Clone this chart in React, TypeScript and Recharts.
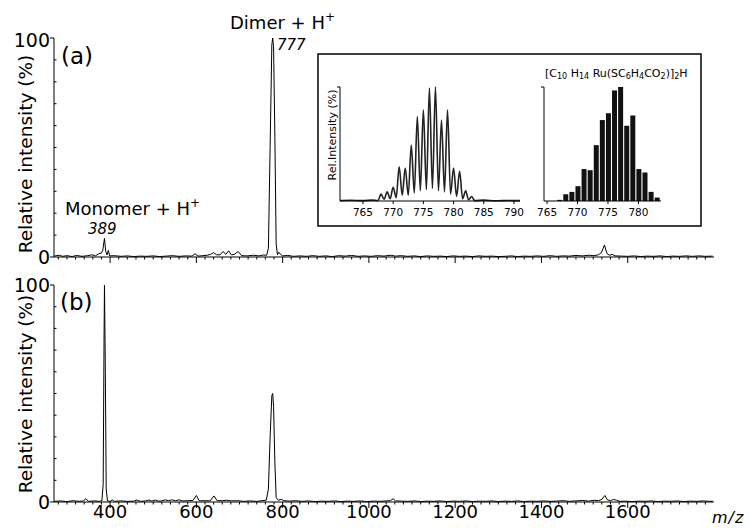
import React from 'react';
import { LineChart, Line, XAxis, YAxis, BarChart, Bar } from 'recharts';

const FONT = '"DejaVu Sans", Verdana, sans-serif';

// (a) spectrum: [m/z, relative intensity %]
const spectrumA: [number, number][] = [
  [270, 0.4], [282, 0.8], [290, 0.3], [300, 0.6], [312, 0.2], [322, 0.7], [335, 0.3], [348, 0.6],
  [358, 1.0], [366, 0.5], [374, 1.5], [380, 1.8], [383, 3], [387, 8.5], [390, 2.5], [393, 1],
  [396, 3], [399, 0.5], [410, 0.6], [425, 0.3], [440, 0.5], [455, 0.2], [470, 0.4], [485, 0.3],
  [500, 0.5], [515, 0.2], [530, 0.4], [545, 0.6], [560, 0.3], [575, 0.5], [590, 0.4], [597, 1.5],
  [604, 0.4], [615, 0.6], [625, 0.8], [633, 1.2], [640, 2], [647, 1], [655, 1], [662, 2.5],
  [668, 1.2], [675, 2.8], [681, 1], [688, 1.2], [697, 2.5], [705, 0.6], [718, 0.5], [732, 0.8],
  [745, 0.5], [755, 0.9], [763, 0.8], [767, 4], [771, 50], [775, 97], [777, 100], [779, 96],
  [782, 55], [785, 6], [788, 1], [791, 2.2], [795, 1.2], [800, 0.5], [812, 0.7], [825, 0.3],
  [840, 0.5], [855, 0.3], [870, 0.6], [885, 0.3], [900, 0.5], [915, 0.2], [930, 0.6], [945, 0.4],
  [960, 0.7], [975, 0.3], [990, 0.5], [1005, 0.3], [1020, 0.6], [1035, 0.4], [1050, 0.8], [1062, 0.4],
  [1075, 0.6], [1090, 0.3], [1105, 0.5], [1120, 0.2], [1135, 0.5], [1150, 0.3], [1165, 0.4], [1180, 0.2],
  [1195, 0.5], [1210, 0.3], [1225, 0.4], [1240, 0.2], [1255, 0.5], [1270, 0.3], [1285, 0.4], [1300, 0.2],
  [1315, 0.3], [1330, 0.5], [1345, 0.2], [1360, 0.4], [1375, 0.3], [1390, 0.5], [1405, 0.3], [1420, 0.6],
  [1435, 0.3], [1450, 0.5], [1465, 0.4], [1480, 0.7], [1495, 0.5], [1510, 0.8], [1522, 0.6], [1532, 1],
  [1539, 2], [1546, 5.5], [1552, 1.5], [1558, 0.8], [1564, 1.2], [1571, 0.5], [1585, 0.4], [1600, 0.3],
  [1615, 0.5], [1630, 0.2], [1645, 0.4], [1660, 0.3], [1675, 0.5], [1690, 0.2], [1705, 0.4], [1720, 0.3],
  [1735, 0.5], [1750, 0.3], [1765, 0.5], [1780, 0.3], [1797, 0.4],
];

// (b) spectrum
const spectrumB: [number, number][] = [
  [270, 0.3], [285, 0.5], [300, 0.2], [315, 0.6], [328, 0.3], [338, 0.5], [344, 1.5], [350, 0.3],
  [362, 0.5], [375, 0.3], [381, 0.6], [384, 8], [386, 75], [387, 100], [389, 60], [391, 6],
  [394, 0.5], [400, 0.3], [405, 1], [410, 0.3], [425, 0.5], [440, 0.3], [455, 0.4], [462, 0.9],
  [470, 0.3], [482, 0.5], [490, 0.9], [497, 0.4], [505, 0.9], [512, 0.4], [520, 0.5], [528, 1],
  [535, 0.6], [543, 1], [552, 0.6], [560, 1], [568, 0.5], [580, 0.6], [592, 0.7], [600, 3],
  [607, 0.5], [620, 0.6], [632, 0.5], [641, 2.8], [648, 0.6], [660, 0.6], [670, 0.8], [680, 0.5],
  [695, 0.6], [710, 0.3], [725, 0.5], [740, 0.3], [752, 0.6], [762, 0.8], [767, 6], [771, 30],
  [775, 49], [777, 50], [779, 44], [782, 18], [785, 2], [790, 0.8], [797, 1.2], [803, 0.6],
  [815, 0.4], [830, 0.6], [845, 0.3], [860, 0.5], [875, 0.2], [890, 0.4], [905, 0.3], [920, 0.5],
  [935, 0.2], [950, 0.4], [965, 0.3], [980, 0.5], [995, 0.2], [1010, 0.4], [1025, 0.3], [1040, 0.5],
  [1050, 0.6], [1056, 1.5], [1062, 0.5], [1075, 0.4], [1090, 0.3], [1105, 0.5], [1120, 0.2], [1135, 0.4],
  [1150, 0.3], [1165, 0.5], [1180, 0.2], [1195, 0.4], [1210, 0.3], [1225, 0.5], [1240, 0.2], [1255, 0.4],
  [1270, 0.3], [1285, 0.5], [1300, 0.2], [1315, 0.4], [1330, 0.3], [1345, 0.5], [1360, 0.2], [1375, 0.4],
  [1390, 0.3], [1405, 0.5], [1420, 0.3], [1435, 0.4], [1450, 0.6], [1465, 0.3], [1480, 0.5], [1495, 0.7],
  [1510, 0.4], [1522, 0.8], [1532, 0.6], [1540, 1.2], [1547, 3], [1553, 1], [1560, 0.6], [1567, 1.2],
  [1574, 0.8], [1582, 0.3], [1595, 0.4], [1610, 0.2], [1625, 0.4], [1640, 0.3], [1655, 0.5], [1670, 0.2],
  [1685, 0.4], [1700, 0.3], [1715, 0.5], [1730, 0.2], [1745, 0.4], [1760, 0.3], [1775, 0.5], [1790, 0.3],
  [1797, 0.4],
];

const mzLabelTicks = [400, 600, 800, 1000, 1200, 1400, 1600];
const mzMinorStep = 20;
const intensityTicks = [0, 10, 20, 30, 40, 50, 60, 70, 80, 90, 100];

// inset: measured isotope pattern
const isotopeMasses = [768, 769, 770, 771, 772, 773, 774, 775, 776, 777, 778, 779, 780, 781, 782, 783];
const isotopeMeasured = [6, 8, 12, 30, 29, 49, 74, 80, 99, 100, 71, 80, 29, 26, 9, 4];
const isotopeValleys = [0.5, 1.5, 2, 3, 5, 5, 7, 9, 10, 11, 9, 8, 6, 4, 2, 1, 0.3];
const profileEdgesLeft: [number, number][] = [[761.2, 0.3], [763, 0.6], [765, 0.3], [766.5, 0.8]];
const profileEdgesRight: [number, number][] = [[785, 0.8], [787, 0.2], [789, 0.5], [791, 0.3]];

// inset: calculated isotope pattern
const calcMasses = [767, 768, 769, 770, 771, 772, 773, 774, 775, 776, 777, 778, 779, 780, 781, 782, 783];
const calcIntensity = [1, 6, 8, 13, 28, 27, 49, 71, 77, 97, 100, 66, 75, 28, 25, 8, 3];

const insetLeftTicks = [765, 770, 775, 780, 785, 790];
const insetRightTicks = [765, 770, 775, 780];

const mainTicks: number[] = [];
for (let v = 280; v <= 1780; v += mzMinorStep) mainTicks.push(v);

const dataA = spectrumA.map(([mz, i]) => ({ mz, i }));
const dataB = spectrumB.map(([mz, i]) => ({ mz, i }));

const profileData: { mz: number; i: number }[] = [];
profileEdgesLeft.forEach(([mz, i]) => profileData.push({ mz, i }));
isotopeMasses.forEach((m, k) => {
  profileData.push({ mz: m - 0.5, i: isotopeValleys[k] });
  profileData.push({ mz: m, i: isotopeMeasured[k] });
});
profileData.push({ mz: isotopeMasses[isotopeMasses.length - 1] + 0.5, i: isotopeValleys[isotopeValleys.length - 1] });
profileEdgesRight.forEach(([mz, i]) => profileData.push({ mz, i }));

const calcData = calcMasses.map((m, k) => ({ mz: m, v: calcIntensity[k] }));

const MainXTick = (props: any) => {
  const { x, y, payload, showLabel } = props;
  const v = payload.value;
  const major = mzLabelTicks.includes(v);
  return (
    <g>
      <line x1={x} x2={x} y1={y} y2={y + (major ? 6 : 2.5)} stroke="#000" strokeWidth={1} />
      {showLabel && major ? (
        <text x={x} y={y + 16} textAnchor="middle" fontFamily={FONT} fontSize={18} fill="#000">
          {v}
        </text>
      ) : null}
    </g>
  );
};

const MainYTick = (props: any) => {
  const { x, y, payload, nudge } = props;
  const v = payload.value;
  if (v === 0 || v === 100) {
    return (
      <g>
        <line x1={x - 4} x2={x} y1={y} y2={y} stroke="#000" strokeWidth={1} />
        <text x={x - 4} y={y + (v === 100 ? nudge : 0)} textAnchor="end" dominantBaseline="central"
          fontFamily={FONT} fontSize={19} fill="#000">{v}</text>
      </g>
    );
  }
  return <line x1={x} x2={x + 2.5} y1={y} y2={y} stroke="#000" strokeWidth={1} />;
};

const InsetXTick = (props: any) => {
  const { x, y, payload } = props;
  return (
    <g>
      <line x1={x} x2={x} y1={y} y2={y + 3} stroke="#000" strokeWidth={1} />
      <text x={x} y={y + 15} textAnchor="middle" fontFamily={FONT} fontSize={10.5} fill="#000">
        {payload.value}
      </text>
    </g>
  );
};

const InsetYTick = (props: any) => {
  const { x, y } = props;
  return <line x1={x - 3} x2={x} y1={y} y2={y} stroke="#000" strokeWidth={1} />;
};

const Spectrum = ({ data, showLabels, top, height, marginTop, axisHeight, nudge }: any) => (
  <div style={{ position: 'absolute', left: 0, top }}>
    <LineChart width={749} height={height} data={data}
      margin={{ top: marginTop, right: 35, bottom: 0, left: 0 }}>
      <XAxis dataKey="mz" type="number" domain={[270, 1800]} allowDataOverflow
        ticks={mainTicks} interval={0} tickSize={0} tickMargin={0} tickLine={false}
        axisLine={{ stroke: '#000', strokeWidth: 1 }} height={axisHeight}
        tick={(p: any) => <MainXTick {...p} showLabel={showLabels} />} />
      <YAxis type="number" domain={[0, 100]} ticks={intensityTicks} interval={0} width={54}
        tickSize={0} tickMargin={0} tickLine={false} axisLine={{ stroke: '#000', strokeWidth: 1 }}
        tick={(p: any) => <MainYTick {...p} nudge={nudge} />} />
      <Line dataKey="i" type="linear" stroke="#000" strokeWidth={1} dot={false}
        isAnimationActive={false} />
    </LineChart>
  </div>
);

export default function App() {
  return (
    <div style={{ position: 'absolute', left: 0, top: 0, width: 749, height: 529, background: '#fff', overflow: 'hidden' }}>
      <Spectrum data={dataA} showLabels={false} top={0} height={280} marginTop={38} axisHeight={23} nudge={2} />
      <Spectrum data={dataB} showLabels={true} top={270} height={259} marginTop={15} axisHeight={27} nudge={0} />

      <svg width={749} height={529} style={{ position: 'absolute', left: 0, top: 0 }}>
        <g fontFamily={FONT} fill="#000">
          <text x={25} y={154} fontSize={18.5} textAnchor="middle" dominantBaseline="central"
            transform="rotate(-90 25 154)">Relative intensity (%)</text>
          <text x={25} y={394} fontSize={18.5} textAnchor="middle" dominantBaseline="central"
            transform="rotate(-90 25 394)">Relative intensity (%)</text>
          <text x={61} y={64} fontSize={23}>(a)</text>
          <text x={60} y={310} fontSize={23}>(b)</text>
          <text x={230} y={29} fontSize={18}>
            Dimer + H<tspan fontSize={12} dy={-8}>+</tspan>
          </text>
          <text x={277} y={50} fontSize={15} fontStyle="italic">777</text>
          <text x={65} y={215} fontSize={18}>
            Monomer + H<tspan fontSize={12} dy={-8}>+</tspan>
          </text>
          <text x={88} y={234} fontSize={15} fontStyle="italic">389</text>
          <text x={712} y={523} fontSize={16} fontStyle="italic" letterSpacing={1}>m/z</text>
          <rect x={318} y={54} width={383} height={172} fill="#fff" stroke="#000" strokeWidth={1.5} />
          <text x={332} y={135} fontSize={11} textAnchor="middle" dominantBaseline="central"
            transform="rotate(-90 332 135)">Rel.Intensity (%)</text>
          <text x={545} y={77} fontSize={11}>
            [C<tspan fontSize={8} dy={2}>10</tspan>
            <tspan dy={-2}> H</tspan><tspan fontSize={8} dy={2}>14</tspan>
            <tspan dy={-2}> Ru(SC</tspan><tspan fontSize={8} dy={2}>6</tspan>
            <tspan dy={-2}>H</tspan><tspan fontSize={8} dy={2}>4</tspan>
            <tspan dy={-2}>CO</tspan><tspan fontSize={8} dy={2}>2</tspan>
            <tspan dy={-2}>)]</tspan><tspan fontSize={8} dy={2}>2</tspan>
            <tspan dy={-2}>H</tspan>
          </text>
        </g>
      </svg>

      <div style={{ position: 'absolute', left: 300, top: 80 }}>
        <LineChart width={230} height={145} data={profileData}
          margin={{ top: 7, right: 10, bottom: 0, left: 0 }}>
          <XAxis dataKey="mz" type="number" domain={[761.2, 791]} allowDataOverflow
            ticks={insetLeftTicks} interval={0} tickSize={0} tickMargin={0} tickLine={false}
            axisLine={{ stroke: '#000', strokeWidth: 1 }} height={24} tick={<InsetXTick />} />
          <YAxis type="number" domain={[0, 100]} ticks={[100]} interval={0} width={40}
            tickSize={0} tickMargin={0} tickLine={false}
            axisLine={{ stroke: '#000', strokeWidth: 1 }} tick={<InsetYTick />} />
          <Line dataKey="i" type="monotone" stroke="#222" strokeWidth={1.6} dot={false}
            isAnimationActive={false} />
        </LineChart>
      </div>

      <div style={{ position: 'absolute', left: 504, top: 80 }}>
        <BarChart width={167} height={145} data={calcData}
          margin={{ top: 7, right: 10, bottom: 0, left: 0 }}>
          <XAxis dataKey="mz" type="number" domain={[764.5, 783.7]} allowDataOverflow
            ticks={insetRightTicks} interval={0} tickSize={0} tickMargin={0} tickLine={false}
            axisLine={{ stroke: '#000', strokeWidth: 1 }} height={24} tick={<InsetXTick />} />
          <YAxis type="number" domain={[0, 100]} ticks={[100]} interval={0} width={40}
            tickSize={0} tickMargin={0} tickLine={false}
            axisLine={{ stroke: '#000', strokeWidth: 1 }} tick={<InsetYTick />} />
          <Bar dataKey="v" fill="#111" barSize={5} isAnimationActive={false} />
        </BarChart>
      </div>
    </div>
  );
}
